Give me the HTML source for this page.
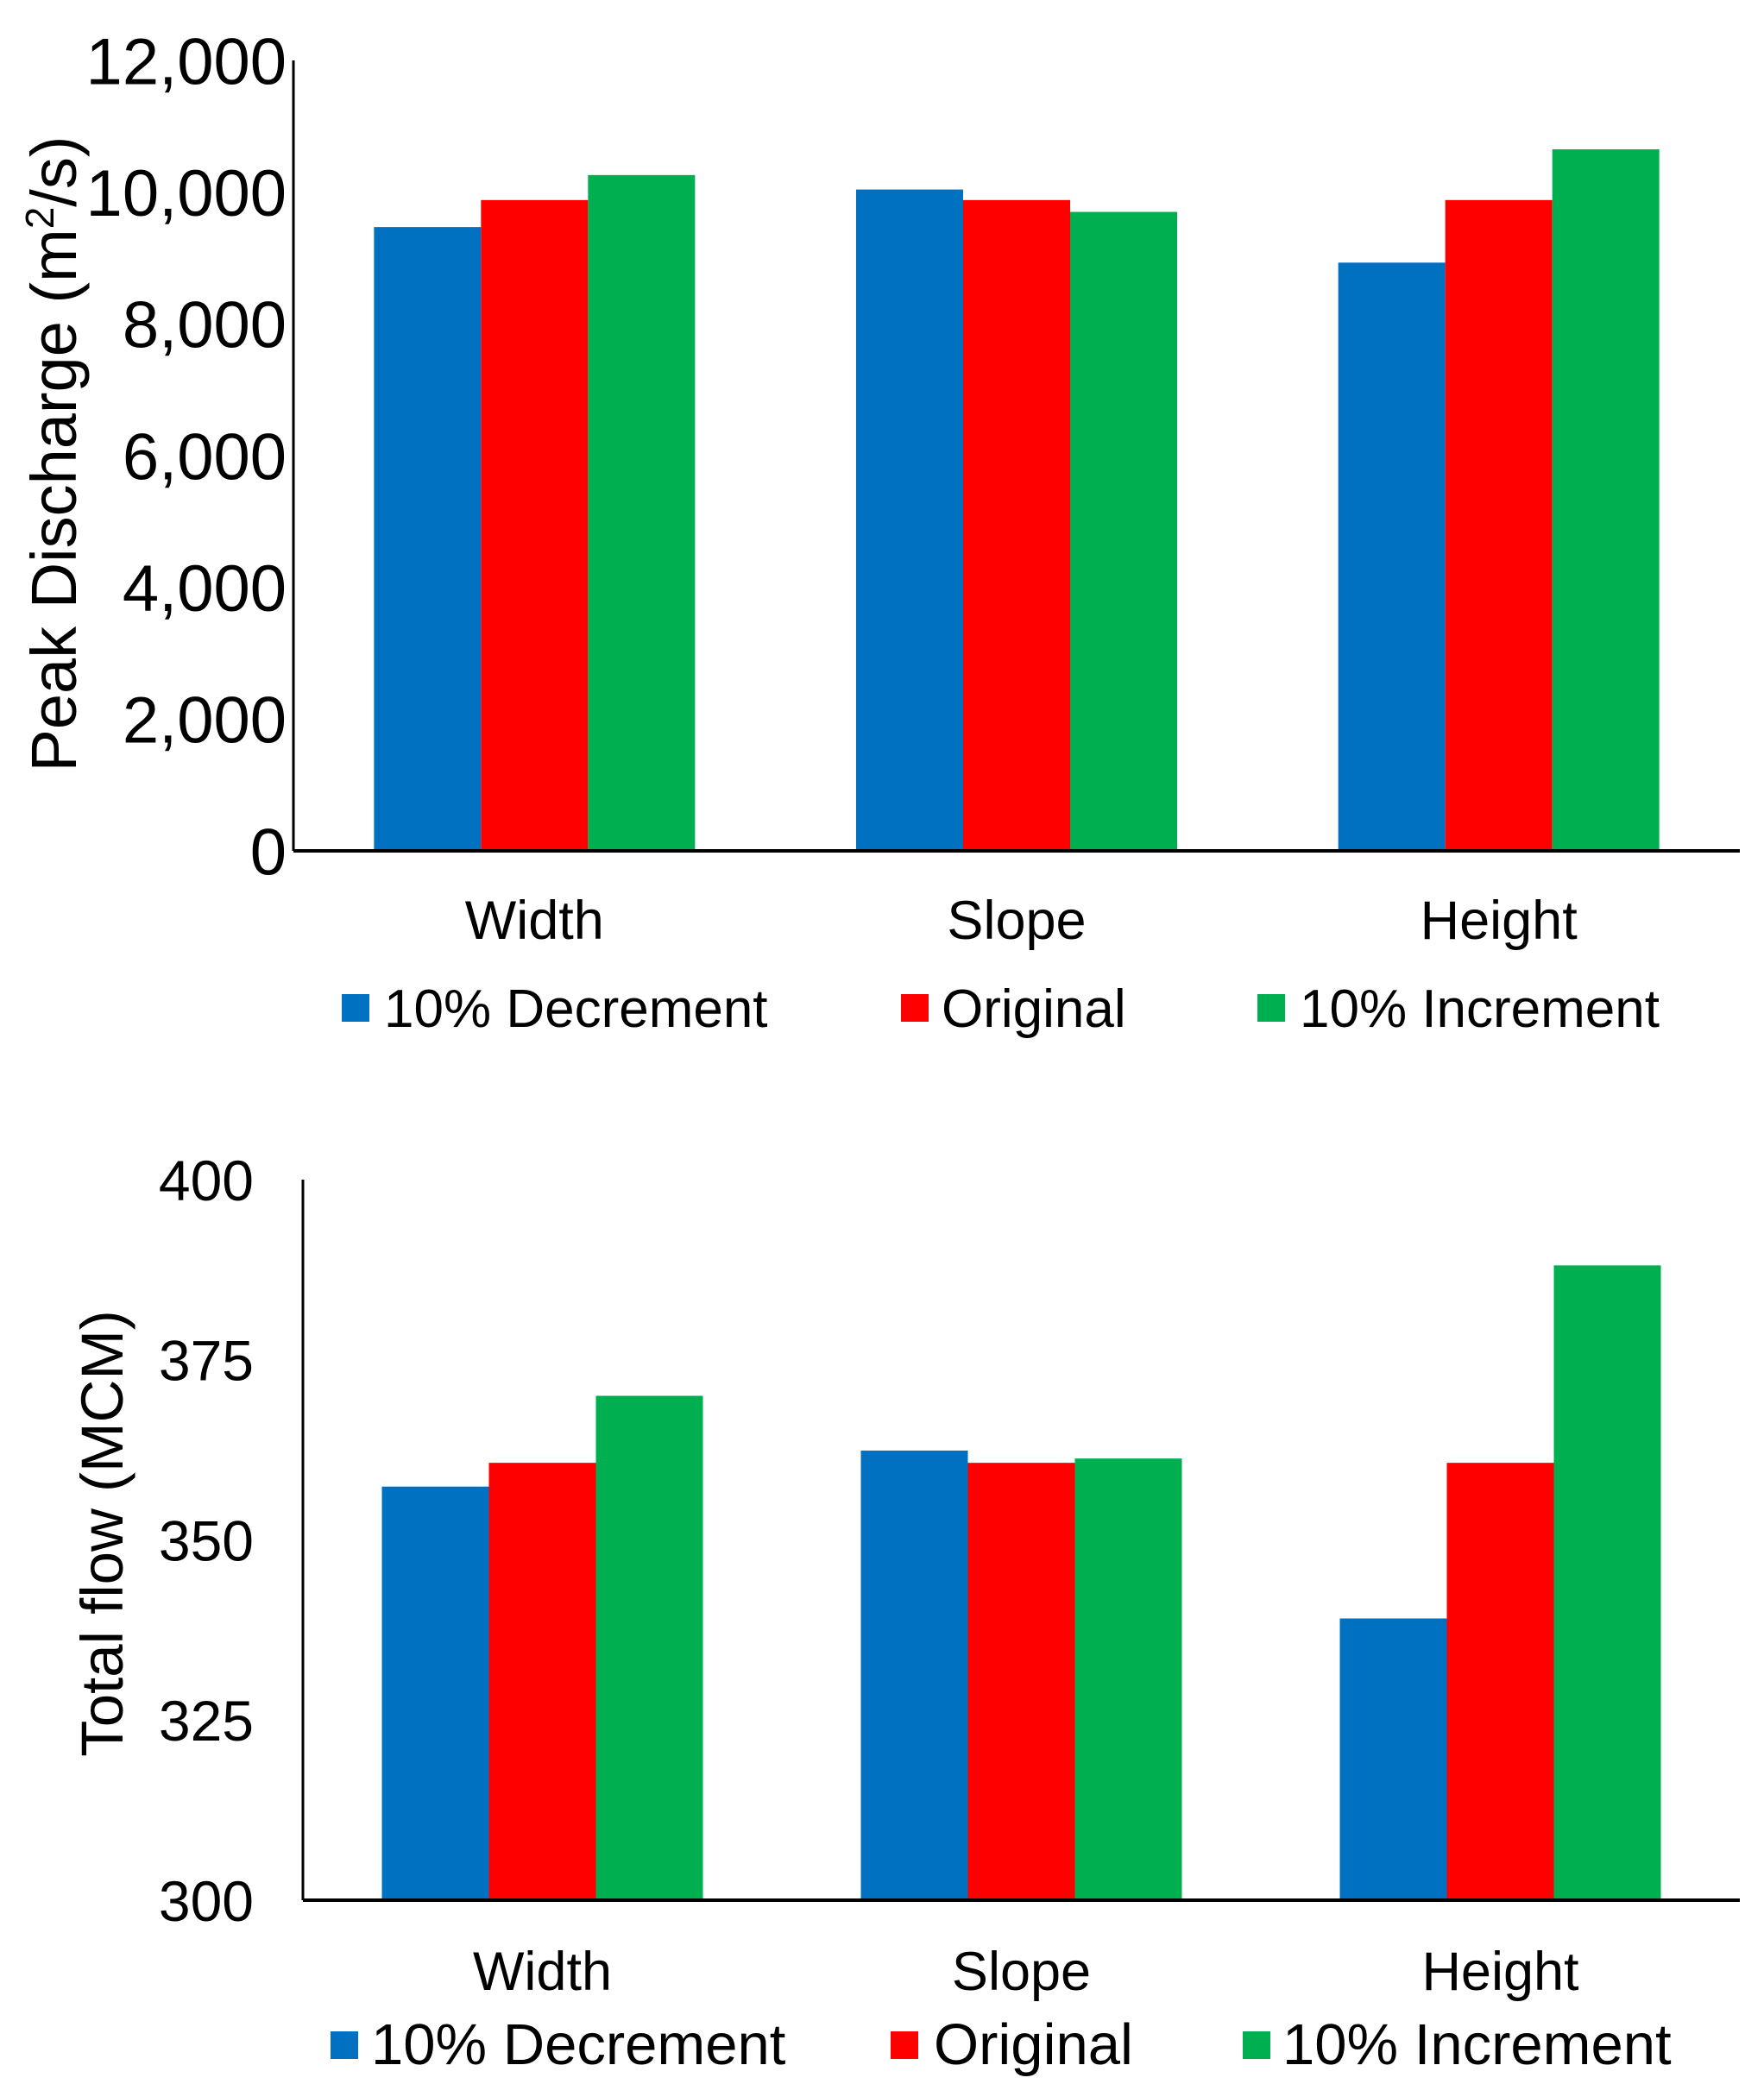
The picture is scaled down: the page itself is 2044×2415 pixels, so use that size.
<!DOCTYPE html>
<html><head><meta charset="utf-8"><style>
html,body{margin:0;padding:0;background:#fff;}
svg{display:block;font-family:"Liberation Sans",Arial,sans-serif;}
</style></head><body>
<svg id="chart" width="2044" height="2415" viewBox="0 0 2044 2415" xmlns="http://www.w3.org/2000/svg"></svg>
<script>
const categories = ["Width","Slope","Height"];
const seriesNames = ["10% Decrement","Original","10% Increment"];
const seriesColors = ["#0070C0","#FF0000","#00B050"];
const peakDecrement = [9470, 10040, 8930];
const peakOriginal = [9880, 9880, 9880];
const peakIncrement = [10260, 9700, 10650];
const peakTicks = [0,2000,4000,6000,8000,10000,12000];
const peakTickLabels = ["0","2,000","4,000","6,000","8,000","10,000","12,000"];
const flowDecrement = [357.4, 362.4, 339.1];
const flowOriginal = [360.7, 360.7, 360.7];
const flowIncrement = [370.0, 361.3, 388.1];
const flowTicks = [300,325,350,375,400];
const flowTickLabels = ["300","325","350","375","400"];

const NS = "http://www.w3.org/2000/svg";
const svg = document.getElementById('chart');
function mk(tag, attrs, parent){
  const e = document.createElementNS(NS, tag);
  for (const k in attrs) e.setAttribute(k, attrs[k]);
  (parent||svg).appendChild(e);
  return e;
}
function drawChart(cfg){
  const g = mk('g', {});
  
  
  const y = v => cfg.y0 - (v - cfg.min) / (cfg.max - cfg.min) * (cfg.y0 - cfg.yTop);
  const series = cfg.series;
  const bw = 124;
  categories.forEach((c, i) => {
    const cx = cfg.x0 + (i + 0.5) * (cfg.xRight - cfg.x0) / 3;
    series.forEach((s, j) => {
      const v = s[i];
      const r = mk('rect', {x: cx + (j - 1.5) * bw, y: y(v), width: bw, height: cfg.y0 - y(v), fill: seriesColors[j]}, g);
      
      
    });
    const t = mk('text', {x: cx, y: cfg.catY, 'font-size': cfg.catFont, 'text-anchor': 'middle', fill: '#000'}, g);
    t.textContent = c;
    
    
  });
  cfg.ticks.forEach((v, k) => {
    const t = mk('text', {x: cfg.tickX, y: y(v) + cfg.tickFont * 0.36, 'font-size': cfg.tickFont, 'text-anchor': 'end', fill: '#000'}, g);
    t.textContent = cfg.tickLabels[k];
    
    
  });
  const ya = mk('line', {x1: cfg.x0, y1: cfg.yTop, x2: cfg.x0, y2: cfg.y0, stroke: '#000', 'stroke-width': 3}, g);
  
  
  const xa = mk('line', {x1: cfg.x0, y1: cfg.y0, x2: cfg.xRight, y2: cfg.y0, stroke: '#000', 'stroke-width': 4}, g);
  
  
  const tt = mk('text', {x: 0, y: 0, 'font-size': cfg.titleFont, 'text-anchor': 'middle', fill: '#000', transform: 'translate(' + cfg.titleX + ',' + cfg.titleY + ') rotate(-90)'}, g);
  tt.innerHTML = cfg.title;
  
  
  cfg.legend.forEach((L, j) => {
    const sq = mk('rect', {x: L[0], y: cfg.legY - 38, width: 32, height: 32, fill: seriesColors[j]}, g);
    
    
    const t = mk('text', {x: L[1], y: cfg.legY, 'font-size': cfg.legFont, fill: '#000'}, g);
    t.textContent = seriesNames[j];
    
    
  });
}
drawChart({name:'peak-discharge-chart', min:0, max:12000, y0:986, yTop:70, x0:340, xRight:2016,
  series:[peakDecrement, peakOriginal, peakIncrement], ticks:peakTicks, tickLabels:peakTickLabels,
  tickX:332, tickFont:76, catY:1088, catFont:63, title:'Peak Discharge (m<tspan baseline-shift="super" font-size="46">2</tspan>/s)', titleFont:74, titleX:88, titleY:526,
  legY:1190, legFont:62, legend:[[396,445],[1044,1091],[1457,1506]]});
drawChart({name:'total-flow-chart', min:300, max:400, y0:2202, yTop:1367, x0:351, xRight:2016,
  series:[flowDecrement, flowOriginal, flowIncrement], ticks:flowTicks, tickLabels:flowTickLabels,
  tickX:294, tickFont:66, catY:2306, catFont:63, title:'Total flow (MCM)', titleFont:69, titleX:142, titleY:1777,
  legY:2392, legFont:67, legend:[[383,430],[1032,1082],[1440,1486]]});
</script>
</body></html>
